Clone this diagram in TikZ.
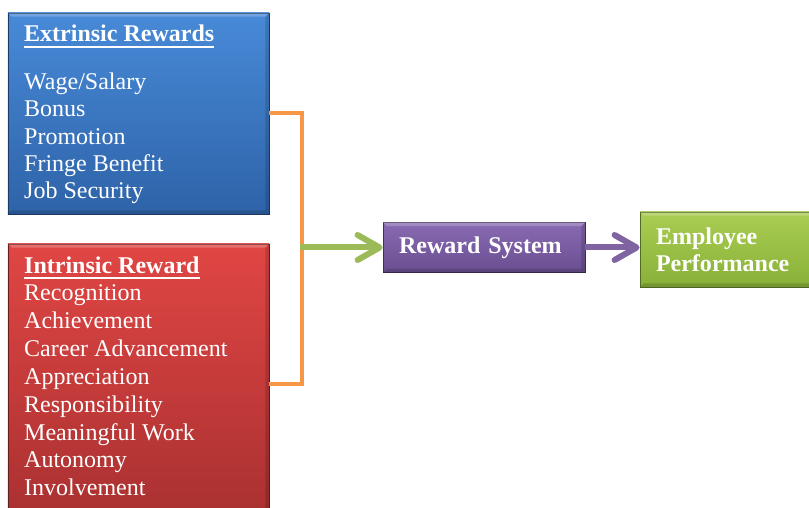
\documentclass[tikz,border=0pt]{standalone}
\usepackage{fontspec}
\setmainfont{Liberation Serif}
\usepackage{tikz}
\usetikzlibrary{positioning, arrows.meta}
\tikzstyle{diagram} = [x = 1bp, y = -1bp]
\definecolor{blueTop}{RGB}{72,138,216}
\definecolor{blueBottom}{RGB}{46,99,168}
\definecolor{redTop}{RGB}{224,70,68}
\definecolor{redBottom}{RGB}{168,48,48}
\definecolor{purpleTop}{RGB}{136,106,178}
\definecolor{purpleBottom}{RGB}{106,78,144}
\definecolor{greenTop}{RGB}{170,205,82}
\definecolor{greenBottom}{RGB}{136,176,56}
\definecolor{bracketColor}{RGB}{247,150,70}
\definecolor{greenArrow}{RGB}{155,187,89}
\definecolor{purpleArrow}{RGB}{128,100,162}
\tikzstyle{rewardBox} = [rectangle, line width=.8bp, inner sep=0pt]
\tikzstyle{bevelLight} = [fill=white, opacity=.22]
\tikzstyle{bevelDark} = [fill=black, opacity=.15]
\tikzstyle{boxText} = [font=\fontsize{24.1}{27.5}\selectfont, text=white, inner sep=0pt, anchor=base west]
\tikzstyle{titleText} = [boxText, font=\fontsize{24.1}{27.5}\selectfont\bfseries]
\tikzstyle{titleLine} = [white, line width=2bp]
\tikzstyle{bracket} = [bracketColor, line width=4bp]
\tikzstyle{flow} = [line width=6bp, -{Straight Barb[length=22bp, width=25bp, round]}]
\newcommand{\bev}{4}
\newcommand{\bevelEdges}[1]{
  \fill [bevelLight] (#1.north west) -- (#1.north east) -- ([shift={(-\bev,\bev)}]#1.north east) -- ([shift={(\bev,\bev)}]#1.north west) -- cycle;
  \fill [bevelDark] (#1.south west) -- (#1.south east) -- ([shift={(-\bev,-\bev)}]#1.south east) -- ([shift={(\bev,-\bev)}]#1.south west) -- cycle;
  \fill [bevelDark] (#1.north east) -- (#1.south east) -- ([shift={(-\bev,-\bev)}]#1.south east) -- ([shift={(-\bev,\bev)}]#1.north east) -- cycle;
}
\newcommand{\underlineTitle}[1]{\draw [titleLine] ([yshift=-4.6bp]#1.base west) -- ([yshift=-4.6bp]#1.base east);}

\begin{document}
\begin{tikzpicture}[diagram]
  \clip (0,0) rectangle (809,508);

  % boxes
  \node [rewardBox, draw=blueBottom!60!black, top color=blueTop, bottom color=blueBottom, minimum width=261bp, minimum height=201bp] (extrinsic) at (138.5,113.5) {};
  \node [rewardBox, draw=redBottom!60!black, top color=redTop, bottom color=redBottom, minimum width=261bp, minimum height=280bp] (intrinsic) at (138.5,384) {};
  \node [rewardBox, draw=purpleBottom!60!black, top color=purpleTop, bottom color=purpleBottom, minimum width=202bp, minimum height=50bp,
         text width=170bp, inner xsep=16bp, align=left, text=white, font=\fontsize{24.1}{27.5}\selectfont\bfseries] (reward) at (484,247.5) {Reward System};
  \node [rewardBox, draw=greenBottom!60!black, top color=greenTop, bottom color=greenBottom, minimum width=190bp, minimum height=75bp,
         text width=158bp, inner xsep=16bp, align=left, text=white, font=\fontsize{24.1}{27}\selectfont\bfseries] (performance) at (735,249.5) {Employee\\Performance};
  \bevelEdges{extrinsic}
  \bevelEdges{intrinsic}
  \bevelEdges{reward}
  \bevelEdges{performance}

  % extrinsic list
  \node [titleText] (extTitle) at (24,42) {Extrinsic Rewards};
  \underlineTitle{extTitle}
  \foreach \entry [count=\i] in {{Wage/Salary}, Bonus, Promotion, Fringe Benefit, Job Security} {
    \pgfmathsetmacro{\var}{89.3 + 27.4 * (\i - 1)}
    \node [boxText] (ext\i) at (24,\var) {\entry};
  }

  % intrinsic list
  \node [titleText] (intTitle) at (24,273.3) {Intrinsic Reward};
  \underlineTitle{intTitle}
  \foreach \entry [count=\i] in {Recognition, Achievement, Career Advancement, Appreciation, Responsibility, Meaningful Work, Autonomy, Involvement} {
    \pgfmathsetmacro{\var}{301 + 27.8 * (\i - 1)}
    \node [boxText] (int\i) at (24,\var) {\entry};
  }

  % connectors
  \coordinate (bend) at ([xshift=33bp]extrinsic.east);
  \draw [bracket] (extrinsic.east) -- (bend) |- (intrinsic.east);
  \draw [flow, greenArrow] ([xshift=-2bp]bend |- reward.west) -- (reward.west);
  \draw [flow, purpleArrow] (reward.east) -- (reward.east -| performance.west);
\end{tikzpicture}
\end{document}
